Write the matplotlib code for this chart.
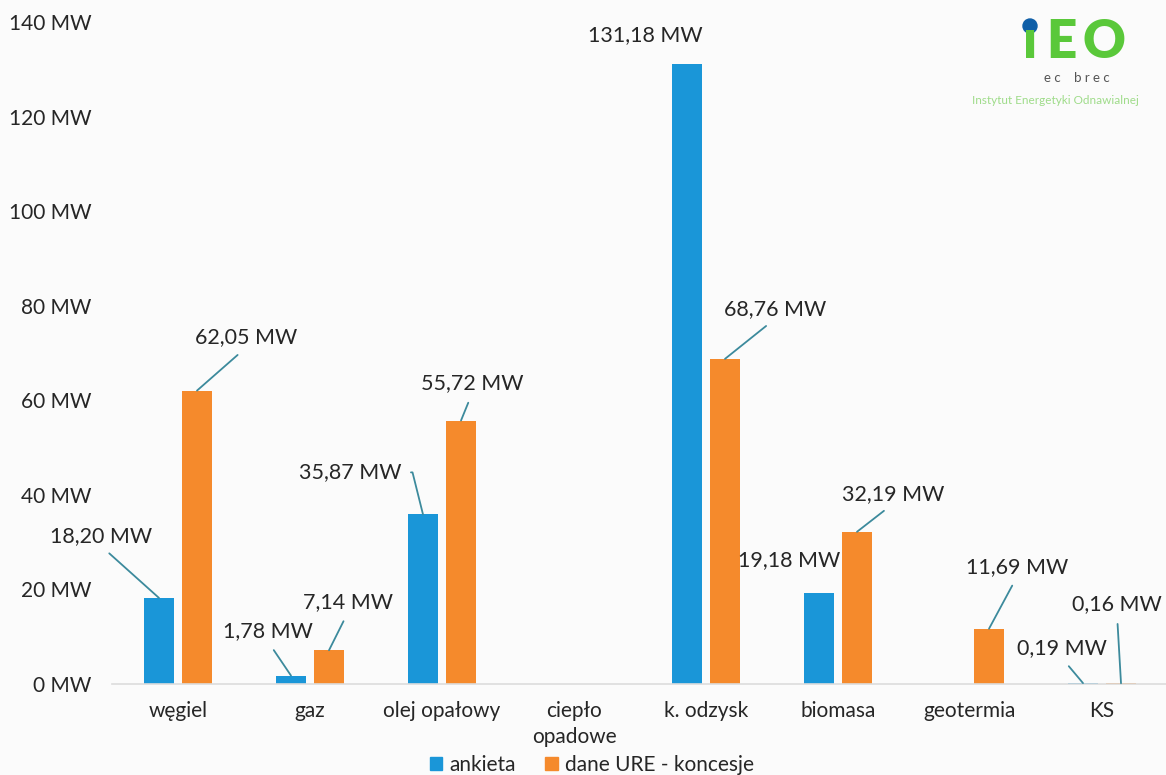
import numpy as np
import matplotlib
matplotlib.use("Agg")
import matplotlib.pyplot as plt
from matplotlib.patches import Patch, Ellipse

plt.rcParams['font.family'] = ['Lato', 'DejaVu Sans']

categories = ["węgiel", "gaz", "olej opałowy", "ciepło\nopadowe", "k. odzysk",
              "biomasa", "geotermia", "KS"]
ankieta = [18.20, 1.78, 35.87, np.nan, 131.18, 19.18, np.nan, 0.19]
ure = [62.05, 7.14, 55.72, np.nan, 68.76, 32.19, 11.69, 0.16]
series_names = ["ankieta", "dane URE - koncesje"]
y_ticks = [0, 20, 40, 60, 80, 100, 120, 140]

# label placement (offset in pixels from bar top), None = no label
off_ankieta = [(-58, 62), (-23, 44), (-73, 42), None, (-42, 29), (-30, 33), None, (-21, 35)]
off_ure = [(49, 53), (19, 48), (11, 37), None, (50, 50), (36, 38), (28, 62), (-4, 79)]
no_leader = {("a", 4), ("a", 5)}
elbow = {("a", 2)}

BLUE = "#1a96d8"
ORANGE = "#f58a2c"
LEADER = "#3c8a9c"
TXT = "#262626"
GREEN = "#5ac83a"

fig = plt.figure(figsize=(11.66, 7.75), dpi=100)
fig.patch.set_facecolor("#fbfbfb")
ax = fig.add_axes([112 / 1166, 91 / 775, 1056 / 1166, 662 / 775])
ax.set_facecolor("none")

x = np.arange(len(categories))
w = 0.22
d = 0.144
ax.bar(x - d, ankieta, w, color=BLUE)
ax.bar(x + d, ure, w, color=ORANGE)

ax.set_xlim(-0.5, len(categories) - 0.5)
ax.set_ylim(0, 140)
ax.set_yticks(y_ticks)
ax.set_yticklabels([f"{t} MW" for t in y_ticks])
ax.set_xticks(x)
ax.set_xticklabels(categories, linespacing=1.4)
ax.tick_params(axis="both", length=0, labelsize=15, labelcolor=TXT)
ax.tick_params(axis="y", pad=15)
ax.tick_params(axis="x", pad=12)
for s in ["top", "right", "left"]:
    ax.spines[s].set_visible(False)
ax.spines["bottom"].set_color("#dcdcdc")
ax.spines["bottom"].set_linewidth(1.2)


def fmt(v):
    return f"{v:.2f}".replace(".", ",") + " MW"


for key, vals, offs, dx in [("a", ankieta, off_ankieta, -d), ("u", ure, off_ure, d)]:
    for i, (v, off) in enumerate(zip(vals, offs)):
        if off is None or np.isnan(v):
            continue
        props = None
        if (key, i) not in no_leader:
            if (key, i) in elbow:
                props = dict(arrowstyle="-", color=LEADER, lw=1.3, shrinkA=5, shrinkB=0,
                             relpos=(1, 0.5),
                             connectionstyle="angle,angleA=0,angleB=104,rad=0")
            else:
                props = dict(arrowstyle="-", color=LEADER, lw=1.3, shrinkA=5, shrinkB=0,
                             relpos=(0.5, 0))
        ax.annotate(fmt(v), xy=(i + dx, v), xytext=off, textcoords="offset pixels",
                    ha="center", va="center", fontsize=15.5, color=TXT,
                    arrowprops=props, annotation_clip=False)

handles = [Patch(color=BLUE), Patch(color=ORANGE)]
fig.legend(handles, series_names, loc="center", bbox_to_anchor=(592 / 1166, 1 - 765 / 775),
           ncol=2, frameon=False, fontsize=15, handlelength=0.6, handleheight=0.6,
           handletextpad=0.35, columnspacing=1.4, labelcolor=TXT)

# logo
for ch, px in [("ı", 1030), ("E", 1061), ("O", 1104)]:
    fig.text(px / 1166, 1 - 58 / 775, ch, fontsize=38, fontweight="heavy",
             color=GREEN, ha="center", va="baseline")
fig.add_artist(Ellipse((1030 / 1166, 1 - 26 / 775), 14 / 1166, 14 / 775,
                       transform=fig.transFigure, color="#0f5fa8"))
fig.text(1077 / 1166, 1 - 78 / 775, "e c    b r e c", fontsize=9.5, color="#555555",
         ha="center", va="center")
fig.text(972 / 1166, 1 - 100 / 775, "Instytut Energetyki Odnawialnej", fontsize=8.5,
         color="#9fdc8a", ha="left", va="center")

fig.savefig("out.png", dpi=100, facecolor=fig.get_facecolor())
